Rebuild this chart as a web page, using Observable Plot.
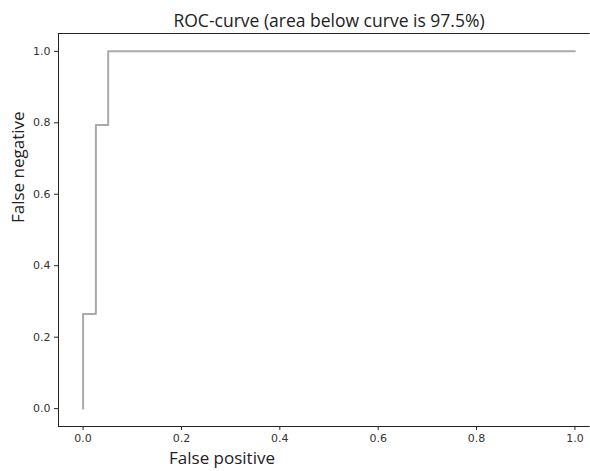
<!DOCTYPE html>
<html><head><meta charset="utf-8">
<script src="https://cdn.jsdelivr.net/npm/d3@7"></script>
<script src="https://cdn.jsdelivr.net/npm/@observablehq/plot@0.6"></script>
<style>html,body{margin:0;padding:0;background:#fff;overflow:hidden}svg{display:block}</style>
</head><body><div id="chart"></div>
<script>
// ROC curve vertices (false positive rate, true positive rate)
const fpr = [0, 0, 0.026, 0.026, 0.051, 0.051, 1.0];
const tpr = [0, 0.265, 0.265, 0.794, 0.794, 1.0, 1.0];
const xTicks = [0, 0.2, 0.4, 0.6, 0.8, 1.0];
const yTicks = [0, 0.2, 0.4, 0.6, 0.8, 1.0];
const axisDomain = [-0.05, 1.05];
const spineEnd = 1.031; // right edge of visible picture
const titleText = "ROC-curve (area below curve is 97.5%)";
const xLabel = "False positive";
const yLabel = "False negative";

const points = fpr.map((x, i) => ({x, y: tpr[i]}));
const labelFont = "'Open Sans', sans-serif";

const chart = Plot.plot({
  width: 590,
  height: 471,
  marginLeft: 58,
  marginTop: 33,
  marginBottom: 45,
  marginRight: 0,
  style: {fontFamily: "'DejaVu Sans', sans-serif", fontSize: "11px", color: "#333", background: "#fff", overflow: "hidden"},
  x: {domain: axisDomain, range: [58, 599]},
  y: {domain: axisDomain},
  marks: [
    Plot.ruleY([axisDomain[0], axisDomain[1]], {x1: axisDomain[0], x2: spineEnd, stroke: "#222", strokeWidth: 1}),
    Plot.ruleX([axisDomain[0]], {stroke: "#222", strokeWidth: 1}),
    Plot.axisX({ticks: xTicks, tickFormat: d => d.toFixed(1), tickSize: 4, tickPadding: 4, label: null, stroke: "#222", fill: "#333"}),
    Plot.axisY({ticks: yTicks, tickFormat: d => d.toFixed(1), tickSize: 4, tickPadding: 4, label: null, stroke: "#222", fill: "#333"}),
    Plot.line(points, {x: "x", y: "y", stroke: "#aaaaaa", strokeWidth: 2}),
    Plot.text([titleText], {text: d => d, x: 0.5, frameAnchor: "top", dy: -19, fontSize: 17.5, fontFamily: labelFont, fill: "#222"}),
    Plot.text([xLabel], {text: d => d, x: 0.5, frameAnchor: "bottom", dx: -107, dy: 37, fontSize: 17, fontFamily: labelFont, fill: "#222"}),
    Plot.text([yLabel], {text: d => d, frameAnchor: "left", rotate: -90, dx: -40, dy: -7, fontSize: 17, fontFamily: labelFont, fill: "#222"})
  ]
});
document.getElementById("chart").appendChild(chart);
</script>
</body></html>
